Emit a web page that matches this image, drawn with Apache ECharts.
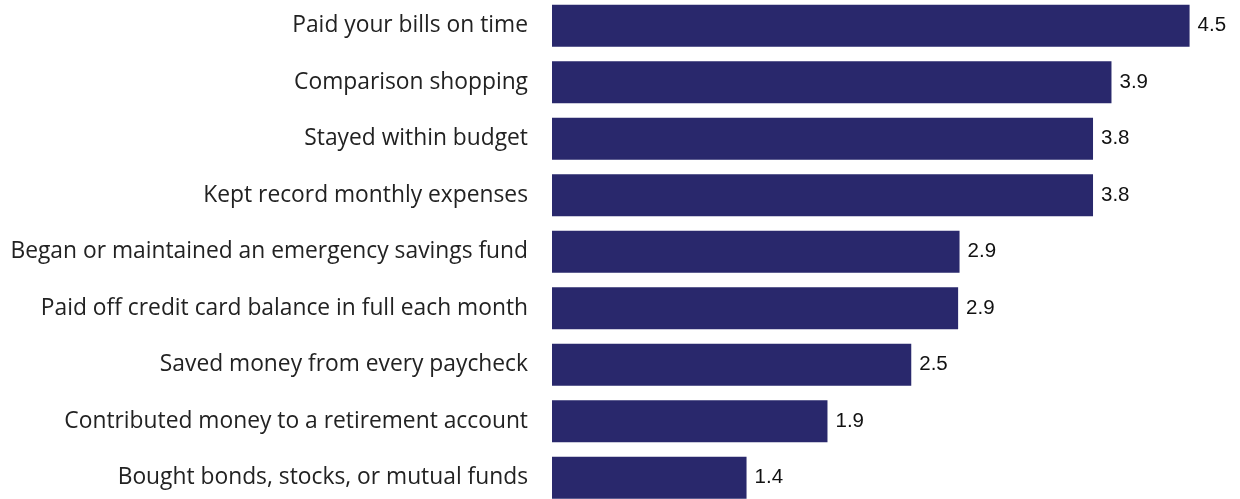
<!DOCTYPE html>
<html>
<head>
<meta charset="utf-8">
<script src="https://cdn.jsdelivr.net/npm/echarts@6/dist/echarts.min.js"></script>
<style>
  html, body { margin: 0; padding: 0; background: #ffffff; }
  #chart { width: 1240px; height: 499px; }
</style>
</head>
<body>
<div id="chart"></div>
<script>
// Financial behaviours, average score
const categories = [
  'Paid your bills on time',
  'Comparison shopping',
  'Stayed within budget',
  'Kept record monthly expenses',
  'Began or maintained an emergency savings fund',
  'Paid off credit card balance in full each month',
  'Saved money from every paycheck',
  'Contributed money to a retirement account',
  'Bought bonds, stocks, or mutual funds'
];
const scores = [4.49, 3.94, 3.81, 3.81, 2.87, 2.86, 2.53, 1.94, 1.37];

const axisMax = 4.8;
const pxPerUnit = 142;

const chart = echarts.init(document.getElementById('chart'), null, { renderer: 'canvas' });
chart.setOption({
  animation: false,
  backgroundColor: '#ffffff',
  grid: {
    left: 552, top: -2.5, width: axisMax * pxPerUnit, height: 508.5,
    containLabel: false, outerBoundsMode: 'none'
  },
  xAxis: {
    type: 'value', min: 0, max: axisMax, show: false
  },
  yAxis: {
    type: 'category',
    data: categories,
    inverse: true,
    axisLine: { show: false },
    axisTick: { show: false },
    splitLine: { show: false },
    axisLabel: {
      margin: 24,
      fontFamily: 'Open Sans',
      fontSize: 22.8,
      color: '#222222'
    }
  },
  series: [{
    type: 'bar',
    data: scores,
    barWidth: 42,
    itemStyle: { color: '#29286c' },
    label: {
      show: true,
      position: 'right',
      distance: 8,
      fontFamily: 'Liberation Sans',
      fontSize: 20.5,
      color: '#111111',
      formatter: p => p.value.toFixed(1)
    }
  }]
});
</script>
</body>
</html>
